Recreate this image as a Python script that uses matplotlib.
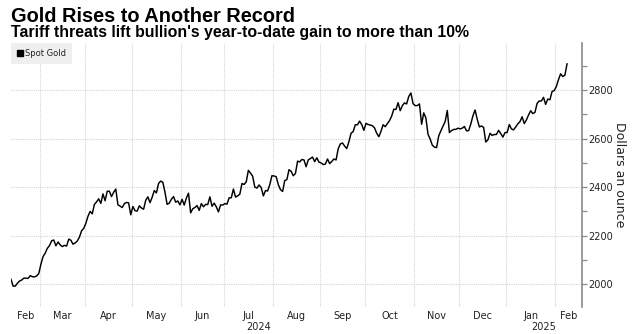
import matplotlib
matplotlib.use("Agg")
import matplotlib.pyplot as plt
import matplotlib.transforms as mtransforms
from matplotlib.patches import Patch
import numpy as np
import pandas as pd

# ---------------- data ----------------
title = "Gold Rises to Another Record"
subtitle = "Tariff threats lift bullion's year-to-date gain to more than 10%"
series_name = "Spot Gold"
y_label = "Dollars an ounce"

start_date = "2024-02-12"
end_date = "2025-02-10"

feb_2024 = [2020, 1992, 1992, 2004, 2013, 2017, 2025, 2025, 2024, 2035, 2031, 2030, 2034, 2044]
mar_2024 = [2083, 2114, 2128, 2148, 2159, 2179, 2182, 2158, 2174, 2162, 2155, 2160, 2157, 2186,
            2181, 2165, 2170, 2178, 2194, 2220, 2230]
apr_2024 = [2251, 2280, 2300, 2290, 2329, 2339, 2352, 2333, 2372, 2344, 2383, 2383, 2361, 2379,
            2392, 2327, 2322, 2316, 2332, 2337, 2335, 2286]
may_2024 = [2320, 2303, 2301, 2323, 2314, 2309, 2346, 2360, 2336, 2358, 2386, 2376, 2415, 2425,
            2420, 2379, 2329, 2334, 2350, 2361, 2338, 2343, 2327]
jun_2024 = [2350, 2326, 2355, 2375, 2294, 2311, 2316, 2324, 2304, 2332, 2319, 2329, 2328, 2360,
            2321, 2334, 2319, 2298, 2327, 2326]
jul_2024 = [2332, 2330, 2356, 2356, 2392, 2359, 2364, 2371, 2415, 2411, 2422, 2469, 2458, 2445,
            2400, 2396, 2409, 2398, 2364, 2386, 2384, 2410, 2447]
aug_2024 = [2446, 2443, 2410, 2390, 2382, 2427, 2431, 2472, 2465, 2447, 2456, 2507, 2504, 2514,
            2512, 2484, 2512, 2518, 2524, 2505, 2521, 2503]
sep_2024 = [2500, 2493, 2495, 2516, 2497, 2506, 2516, 2512, 2558, 2578, 2582, 2569, 2559, 2587,
            2622, 2629, 2657, 2657, 2672, 2658, 2634]
oct_2024 = [2663, 2658, 2656, 2653, 2644, 2622, 2608, 2630, 2657, 2649, 2662, 2674, 2693, 2721,
            2720, 2748, 2715, 2736, 2747, 2743, 2774, 2788, 2744]
nov_2024 = [2736, 2736, 2743, 2659, 2706, 2685, 2618, 2598, 2573, 2565, 2563, 2611, 2632, 2651,
            2670, 2716, 2625, 2633, 2638, 2638, 2643]
dec_2024 = [2640, 2643, 2650, 2632, 2633, 2660, 2694, 2718, 2680, 2648, 2652, 2646, 2586, 2595,
            2622, 2613, 2617, 2617, 2634, 2621, 2606, 2625]
jan_2025 = [2625, 2658, 2640, 2636, 2648, 2661, 2670, 2690, 2662, 2677, 2697, 2715, 2703, 2708,
            2745, 2755, 2755, 2770, 2741, 2763, 2760, 2794, 2798]
feb_2025 = [2815, 2843, 2867, 2856, 2861, 2908]

y_ticks = [2000, 2200, 2400, 2600, 2800]
y_minor_ticks = [2100, 2300, 2500, 2700, 2900]

# ---------------- build ----------------
prices = (feb_2024 + mar_2024 + apr_2024 + may_2024 + jun_2024 + jul_2024 + aug_2024 +
          sep_2024 + oct_2024 + nov_2024 + dec_2024 + jan_2025 + feb_2025)
dates = pd.bdate_range(start_date, end_date)
assert len(dates) == len(prices), (len(dates), len(prices))
x = np.arange(len(dates))

W, H = 633, 334
fig = plt.figure(figsize=(W / 100, H / 100), dpi=100)
fig.patch.set_facecolor("white")

ax_left, ax_right, ax_top, ax_bottom = 11, 582, 43, 307
ax = fig.add_axes([ax_left / W, 1 - ax_bottom / H, (ax_right - ax_left) / W, (ax_bottom - ax_top) / H])

ax.plot(x, prices, color="black", lw=1.05, solid_joinstyle="round", zorder=3)

x_left, x_right = 0, len(dates) - 1 + 7
ax.set_xlim(x_left, x_right)
ax.set_ylim(1906, 2994)

# month boundaries (gridlines) and centered month labels
months = dates.to_period("M")
bounds = [i - 0.5 for i in range(1, len(dates)) if months[i] != months[i - 1]]
edges = [x_left] + bounds + [x_right]
seg_starts = [0] + [int(b + 0.5) for b in bounds]
centers = [(edges[k] + edges[k + 1]) / 2 for k in range(len(edges) - 1)]
labels = [dates[s].strftime("%b") for s in seg_starts]

ax.set_xticks(bounds)
ax.set_xticklabels([])
ax.set_xticks(centers, minor=True)
ax.set_xticklabels(labels, minor=True)
ax.tick_params(axis="x", which="major", length=0)
ax.tick_params(axis="x", which="minor", length=0, pad=3, labelsize=7, labelcolor="#222222")

# year labels centered on the span of each year
years = dates.year
trans = mtransforms.blended_transform_factory(ax.transData, ax.transAxes) + \
    mtransforms.ScaledTranslation(0, -20.5 / 100, fig.dpi_scale_trans)
for yr in sorted(set(years)):
    idx = np.where(years == yr)[0]
    lo = max(x_left, idx[0] - 0.5)
    hi = x_right if idx[-1] == len(dates) - 1 else idx[-1] + 0.5
    ax.text((lo + hi) / 2, 0, str(yr), transform=trans, ha="center", va="center",
            fontsize=7, color="#222222")

# y axis on the right
ax.yaxis.tick_right()
ax.set_yticks(y_ticks)
ax.set_yticks(y_minor_ticks, minor=True)
ax.tick_params(axis="y", which="both", length=3.5, width=0.9, color="#8a8a8a", pad=1,
               labelsize=7, labelcolor="#222222")
ax.yaxis.set_label_position("right")
ax.set_ylabel(y_label, rotation=270, fontsize=9, color="#222222")
ax.yaxis.label.set_rotation_mode("default")
ax.yaxis.label.set_verticalalignment("center")
ax.yaxis.label.set_horizontalalignment("center")
ax.yaxis.set_label_coords((620 - ax_left) / (ax_right - ax_left), 0.5)

for s in ["top", "left", "bottom"]:
    ax.spines[s].set_visible(False)
ax.spines["right"].set_color("#8a8a8a")
ax.spines["right"].set_linewidth(1.2)

ax.grid(True, which="major", axis="both", color="#d4d4d4", linestyle=(0, (1, 1)), lw=0.8, zorder=0)
ax.set_axisbelow(True)

leg = ax.legend(handles=[Patch(facecolor="black", edgecolor="black")], labels=[series_name],
                loc="upper left", bbox_to_anchor=(0, 1), borderaxespad=0, fontsize=6,
                handlelength=0.7, handleheight=0.7, handletextpad=0.3, borderpad=0.7,
                frameon=True, fancybox=False, framealpha=1)
leg.get_frame().set_facecolor("#efefef")
leg.get_frame().set_edgecolor("none")
for t in leg.get_texts():
    t.set_color("#222222")

# titles, scaled to the reference widths
t1 = fig.text(11 / W, 1 - 21.5 / H, title, fontsize=14.4, fontweight="bold",
              family=["Liberation Sans", "DejaVu Sans"], va="baseline", ha="left", color="black")
t2 = fig.text(11 / W, 1 - 36.7 / H, subtitle, fontsize=10, fontweight="bold",
              family=["Liberation Sans", "DejaVu Sans"], va="baseline", ha="left", color="black")
renderer = fig.canvas.get_renderer()
for t, target in [(t1, 285), (t2, 457)]:
    w = t.get_window_extent(renderer).width
    t.set_fontsize(t.get_fontsize() * target / w)

fig.savefig("out.png", dpi=100)
